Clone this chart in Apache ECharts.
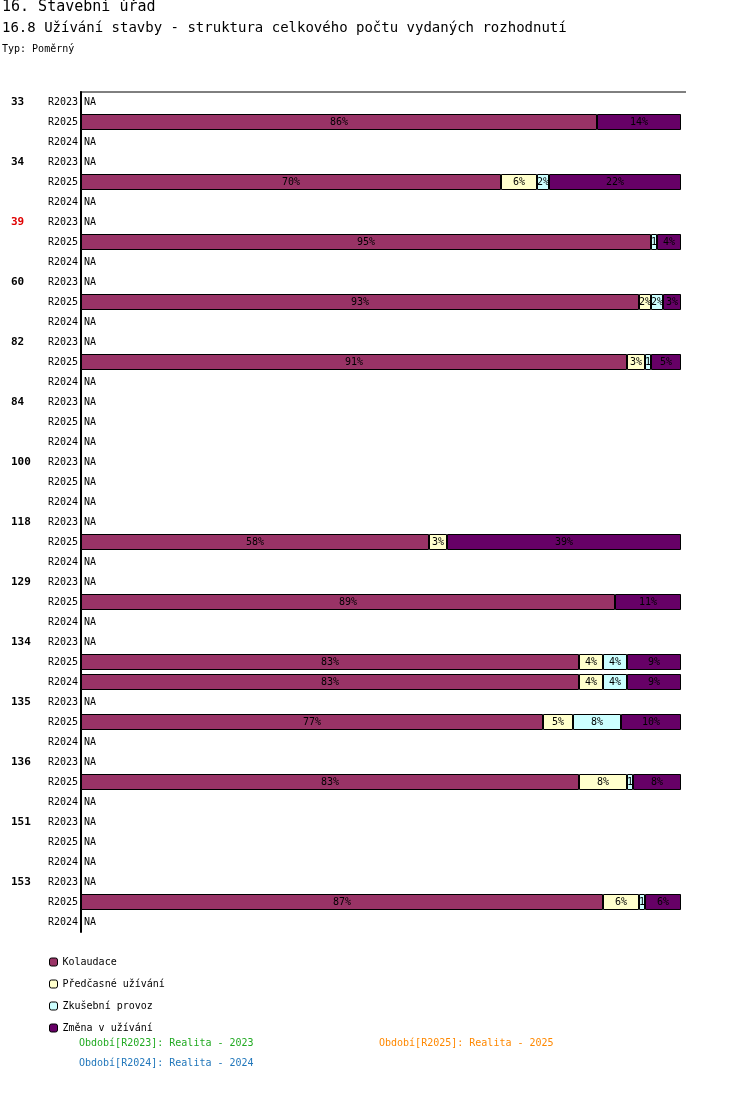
<!DOCTYPE html>
<html><head><meta charset="utf-8">
<script src="https://cdn.jsdelivr.net/npm/echarts@6/dist/echarts.min.js"></script>
<style>html,body{margin:0;padding:0;background:#fff}#c{width:750px;height:1102px}</style>
</head><body><div id="c"></div>
<script>
const groups = ['33','34','39','60','82','84','100','118','129','134','135','136','151','153'];
const periods = ['R2023','R2025','R2024'];
const seriesNames = ['Kolaudace','Předčasné užívání','Zkušební provoz','Změna v užívání'];
const colors = ['#993366','#ffffcc','#ccffff','#660066'];
// values per group / period: [Kolaudace, Předčasné, Zkušební, Změna] or null = NA
const values = {
  '33':  {R2025:[86,0,0,14]},
  '34':  {R2025:[70,6,2,22]},
  '39':  {R2025:[95,0,1,4]},
  '60':  {R2025:[93,2,2,3]},
  '82':  {R2025:[91,3,1,5]},
  '84':  {},
  '100': {},
  '118': {R2025:[58,3,0,39]},
  '129': {R2025:[89,0,0,11]},
  '134': {R2025:[83,4,4,9], R2024:[83,4,4,9]},
  '135': {R2025:[77,5,8,10]},
  '136': {R2025:[83,8,1,8]},
  '151': {},
  '153': {R2025:[87,6,1,6]}
};
const redGroups = ['39'];

const cats = [];
const rows = [];
groups.forEach(g => periods.forEach((p,i) => {
  cats.push(g+'|'+p+'|'+i);
  rows.push(values[g][p] || null);
}));

const series = seriesNames.map((n,si) => ({
  name:n, type:'bar', stack:'s', barWidth:16,
  itemStyle:{color:colors[si], borderColor:'#000', borderWidth:1},
  label:{show:true, position:'inside', color:'#000', fontFamily:'DejaVu Sans Mono', fontSize:10,
    formatter: p => p.value>0 ? (p.value<2 ? p.value : p.value+'%') : ''},
  data: rows.map(r => r ? (r[si] || '-') : '-')
}));
series.push({
  name:'NA', type:'bar', stack:'na', barWidth:16, barGap:'-100%',
  itemStyle:{color:'transparent'},
  label:{show:true, position:'insideLeft', offset:[-2,0], color:'#000', fontFamily:'DejaVu Sans Mono', fontSize:10, formatter: p => rows[p.dataIndex] ? '' : 'NA'},
  data: rows.map(r => r ? '-' : 0.001), silent:true
});

const chart = echarts.init(document.getElementById('c'));
chart.setOption({
  animation:false,
  textStyle:{fontFamily:'DejaVu Sans Mono'},
  grid:{left:81, right:69, top:92, bottom:170},
  xAxis:{type:'value', min:0, max:100, show:false},
  yAxis:{type:'category', inverse:true, data:cats,
    axisLine:{lineStyle:{color:'#000', width:2}}, axisTick:{show:false},
    axisLabel:{margin:3, interval:0, formatter: v => {
      const [g,p,i] = v.split('|');
      const gl = i==='0' ? g : '';
      return '{'+(redGroups.includes(g)?'gr':'g')+'|'+gl+'}{r|'+p+'}';
    }, rich:{
      g:{width:37, fontWeight:'bold', fontSize:11, color:'#000', fontFamily:'DejaVu Sans Mono', align:'left'},
      gr:{width:37, fontWeight:'bold', fontSize:11, color:'#e00000', fontFamily:'DejaVu Sans Mono', align:'left'},
      r:{fontSize:10, color:'#000', fontFamily:'DejaVu Sans Mono'}
    }}},
  legend:{orient:'vertical', left:44, top:952, itemWidth:8, itemHeight:8, itemGap:12,
    data:seriesNames, textStyle:{fontSize:10, fontFamily:'DejaVu Sans Mono', color:'#000'},
    itemStyle:{borderColor:'#000', borderWidth:1}},
  series,
  graphic:[
    {type:'text', left:2, top:0, style:{text:'16. Stavební úřad', font:'15px DejaVu Sans Mono', fill:'#000'}},
    {type:'text', left:2, top:21, style:{text:'16.8 Užívání stavby - struktura celkového počtu vydaných rozhodnutí', font:'14px DejaVu Sans Mono', fill:'#000'}},
    {type:'text', left:2, top:44, style:{text:'Typ: Poměrný', font:'10px DejaVu Sans Mono', fill:'#000'}},
    {type:'line', shape:{x1:80,y1:92,x2:686,y2:92}, style:{stroke:'#000', lineWidth:1}},
    {type:'text', left:79, top:1038, style:{text:'Období[R2023]: Realita - 2023', font:'10px DejaVu Sans Mono', fill:'#22aa22'}},
    {type:'text', left:379, top:1038, style:{text:'Období[R2025]: Realita - 2025', font:'10px DejaVu Sans Mono', fill:'#ff8800'}},
    {type:'text', left:79, top:1058, style:{text:'Období[R2024]: Realita - 2024', font:'10px DejaVu Sans Mono', fill:'#2277bb'}}
  ]
});
</script></body></html>
